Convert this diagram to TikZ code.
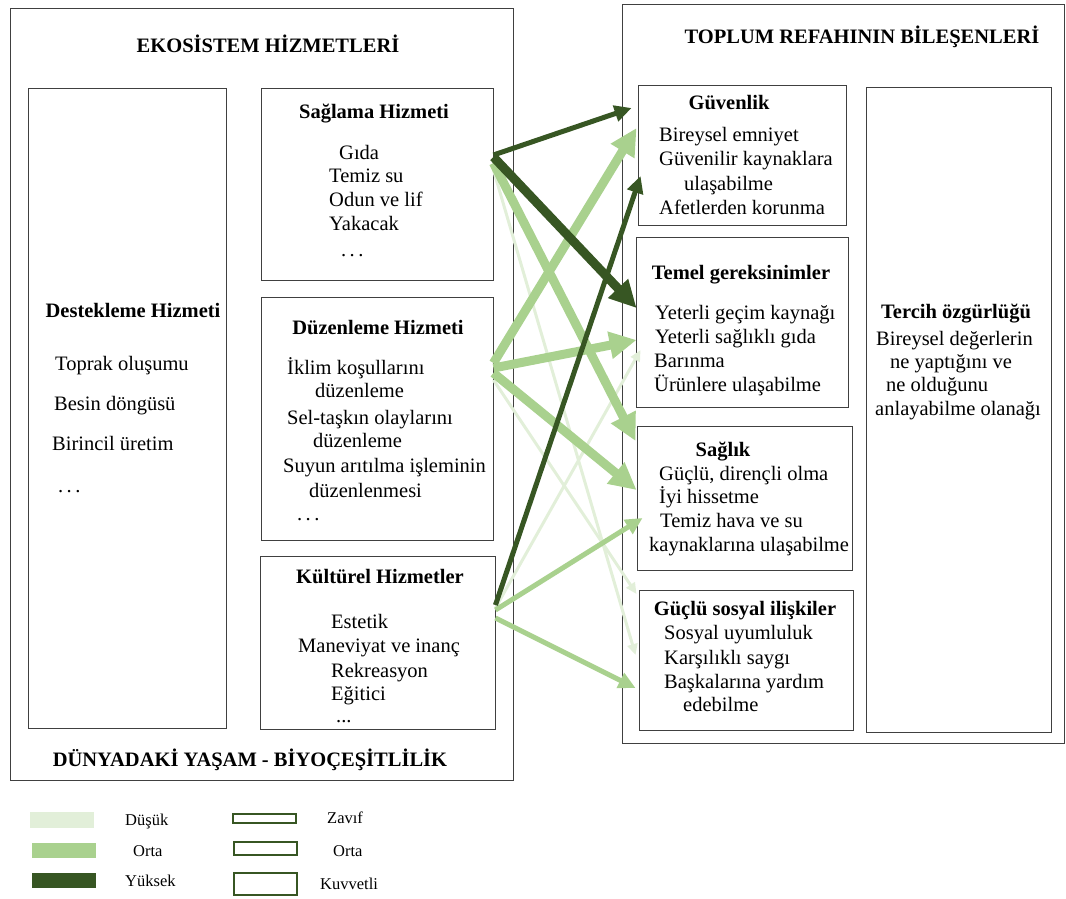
\documentclass[tikz,border=0pt]{standalone}
\usepackage{fontspec}
\setmainfont{Liberation Serif}
\usetikzlibrary{arrows.meta}

\definecolor{yuksek}{HTML}{375623}
\definecolor{orta}{HTML}{A9D18E}
\definecolor{dusuk}{HTML}{E2EFD9}

\tikzset{
  box/.style={draw=black!75, line width=0.9pt, rectangle, inner sep=0pt},
  item/.style={anchor=base west, inner sep=0pt, font=\fontsize{20.5}{24}\selectfont},
  head/.style={anchor=base, inner sep=0pt, font=\fontsize{20.5}{24}\selectfont\bfseries},
  legtext/.style={anchor=base west, inner sep=0pt, font=\fontsize{16.5}{20}\selectfont},
  zayif/.style={line width=3pt, -{Triangle[length=11pt,width=10pt]}},
  ortakalin/.style={line width=5pt, -{Triangle[length=17pt,width=16pt]}},
  kuvvetli/.style={line width=9pt, -{Triangle[length=27pt,width=26pt]}},
}

\begin{document}
\begin{tikzpicture}[x=1pt, y=-1pt]
\useasboundingbox (0,0) rectangle (1066,899);

% Outer frames
\node[box, minimum width=503pt, minimum height=772pt] (eko) at (261.5,394) {};
\node[box, minimum width=442pt, minimum height=739pt] (refah) at (843,373.5) {};
\node[head] (ekobaslik) at (268,53) {EKOSİSTEM HİZMETLERİ};
\node[head] (refahbaslik) at (862,44) {TOPLUM REFAHININ BİLEŞENLERİ};
\node[head] (yasam) at (250,766) {DÜNYADAKİ YAŞAM - BİYOÇEŞİTLİLİK};

% Ecosystem services
\node[box, minimum width=198pt, minimum height=640pt] (des) at (127,408) {};
\node[box, minimum width=232pt, minimum height=192pt] (sagl) at (377,184) {};
\node[box, minimum width=232pt, minimum height=243pt] (duz) at (377,418.5) {};
\node[box, minimum width=235pt, minimum height=173pt] (kul) at (377.5,642.5) {};

\node[head] (desbaslik) at (133,317) {Destekleme Hizmeti};
\foreach \x/\y/\t [count=\i] in {55/370/Toprak oluşumu, 54/410/Besin döngüsü,
    52/450/Birincil üretim, 58/492/{.\,.\,.}}
  \node[item] (des\i) at (\x,\y) {\t};

\node[head] (saglbaslik) at (374,118) {Sağlama Hizmeti};
\foreach \x/\y/\t [count=\i] in {339/159/Gıda, 329/182/Temiz su, 329/206/Odun ve lif,
    329/230/Yakacak, 341/256/{.\,.\,.}}
  \node[item] (sagl\i) at (\x,\y) {\t};

\node[head] (duzbaslik) at (378,334) {Düzenleme Hizmeti};
\foreach \x/\y/\t [count=\i] in {287/374/İklim koşullarını, 315/397/düzenleme,
    287/424/Sel-taşkın olaylarını, 313/447/düzenleme, 283/472/Suyun arıtılma işleminin,
    309/497/düzenlenmesi, 297/520/{.\,.\,.}}
  \node[item] (duz\i) at (\x,\y) {\t};

\node[head] (kulbaslik) at (380,583) {Kültürel Hizmetler};
\foreach \x/\y/\t [count=\i] in {331/628/Estetik, 298/652/Maneviyat ve inanç,
    331/677/Rekreasyon, 331/700/Eğitici, 336/722/{.{}.{}.}}
  \node[item] (kul\i) at (\x,\y) {\t};

% Well-being components
\node[box, minimum width=208pt, minimum height=140pt] (guv) at (742,155) {};
\node[box, minimum width=212pt, minimum height=170pt] (tem) at (742,322.5) {};
\node[box, minimum width=215pt, minimum height=144pt] (sag) at (744.5,498) {};
\node[box, minimum width=214pt, minimum height=140pt] (gsi) at (746,660) {};
\node[box, minimum width=185pt, minimum height=645pt] (ter) at (958.5,409.5) {};

\node[head] (guvbaslik) at (729,110) {Güvenlik};
\foreach \x/\y/\t [count=\i] in {659/141/Bireysel emniyet, 659/165/Güvenilir kaynaklara,
    684/190/ulaşabilme, 659/214/Afetlerden korunma}
  \node[item] (guv\i) at (\x,\y) {\t};

\node[head] (tembaslik) at (741,279) {Temel gereksinimler};
\foreach \x/\y/\t [count=\i] in {655/319/Yeterli geçim kaynağı, 655/343/Yeterli sağlıklı gıda,
    654/367/Barınma, 654/391/Ürünlere ulaşabilme}
  \node[item] (tem\i) at (\x,\y) {\t};

\node[head] (sagbaslik) at (723,456) {Sağlık};
\foreach \x/\y/\t [count=\i] in {659/480/{Güçlü, dirençli olma}, 659/503/İyi hissetme,
    660/527/Temiz hava ve su, 649/551/kaynaklarına ulaşabilme}
  \node[item] (sag\i) at (\x,\y) {\t};

\node[head] (gsibaslik) at (745,615) {Güçlü sosyal ilişkiler};
\foreach \x/\y/\t [count=\i] in {664/639/Sosyal uyumluluk, 664/664/Karşılıklı saygı,
    664/688/Başkalarına yardım, 683/711/edebilme}
  \node[item] (gsi\i) at (\x,\y) {\t};

\node[head] (terbaslik) at (956,318) {Tercih özgürlüğü};
\foreach \x/\y/\t [count=\i] in {876/345/Bireysel değerlerin, 890/368/ne yaptığını ve,
    886/391/ne olduğunu, 875/415/anlayabilme olanağı}
  \node[item] (ter\i) at (\x,\y) {\t};

% Links: source, shift, target, x/y shift, colour, width
\foreach \a/\sa/\b/\tx/\ty/\c/\w in {
    sagl/14/gsi/-3/5/dusuk/zayif,
    duz/38.5/gsi/-2/66/dusuk/zayif,
    kul/34.5/tem/5/-27.5/dusuk/zayif,
    duz/55.5/guv/-1/27/orta/kuvvetli,
    sagl/21/sag/-1/57/orta/kuvvetli,
    duz/50.5/tem/1/-17.5/orta/kuvvetli,
    duz/45.5/sag/0/8/orta/kuvvetli,
    kul/32.5/sag/6/-20/orta/ortakalin,
    kul/24.5/gsi/-3/-28/orta/ortakalin,
    sagl/29/guv/-6/47/yuksek/ortakalin,
    sagl/27/tem/1/14.5/yuksek/kuvvetli,
    kul/37.5/guv/3/-21/yuksek/ortakalin}
  \draw[draw=\c, \w] ([yshift=\sa pt]\a.east) -- ([xshift=\tx pt, yshift=\ty pt]\b.west);

% Legend
\fill[dusuk] (30,812) rectangle (94,828);
\fill[orta] (32,843) rectangle (96,858);
\fill[yuksek] (32,873) rectangle (96,888);
\node[legtext] (ldusuk) at (125,825) {Düşük};
\node[legtext] (lorta) at (133,856) {Orta};
\node[legtext] (lyuksek) at (125,886) {Yüksek};

\draw[yuksek, line width=1.2pt] (233,814) rectangle (296,823);
\draw[yuksek, line width=1.2pt] (234,842) rectangle (297,855);
\draw[yuksek, line width=1.2pt] (234,873) rectangle (297,895);
\node[legtext] (lzayif) at (327,823) {Zavıf};
\node[legtext] (lorta2) at (333,856) {Orta};
\node[legtext] (lkuvvetli) at (320,889) {Kuvvetli};

\end{tikzpicture}
\end{document}
